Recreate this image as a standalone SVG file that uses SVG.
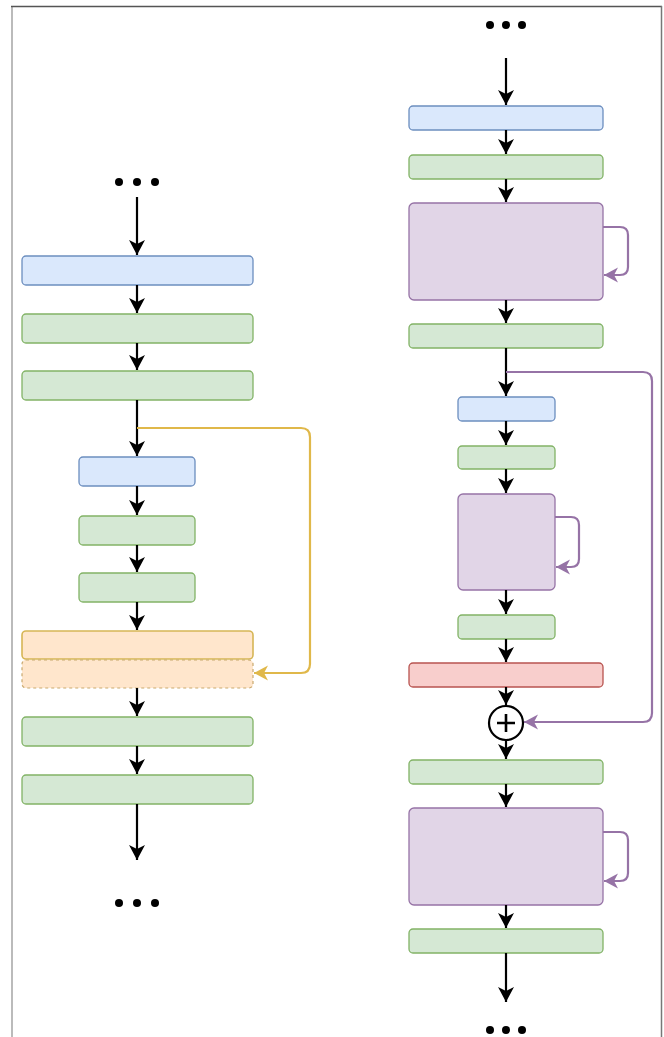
<svg xmlns="http://www.w3.org/2000/svg" width="664" height="1037" viewBox="0 0 664 1037">
<style>
.blue{fill:#dae8fc;stroke:#6c8ebf;stroke-width:1.3}
.green{fill:#d5e8d4;stroke:#82b366;stroke-width:1.3}
.purple{fill:#e1d5e7;stroke:#9673a6;stroke-width:1.3}
.orange{fill:#ffe6cc;stroke:#d6b656;stroke-width:1.6}
.orange-d{fill:#ffe6cc;stroke:#c9a96e;stroke-width:1.2;stroke-dasharray:3 3}
.red{fill:#f8cecc;stroke:#b85450;stroke-width:1.3}
.flow{fill:none;stroke:#000;stroke-width:2.2}
.skipY{fill:none;stroke:#e0b84a;stroke-width:2.2}
.skipP{fill:none;stroke:#9673a6;stroke-width:2.2}
.dot{fill:#000}
</style>
<defs>
<marker id="ab" markerUnits="userSpaceOnUse" markerWidth="18" markerHeight="18" viewBox="-16 -9 18 18" refX="0" refY="0" orient="auto">
<path d="M0,0 L-15,-8 L-11,0 L-15,8 Z" fill="#000"/>
</marker>
<marker id="ay" markerUnits="userSpaceOnUse" markerWidth="18" markerHeight="18" viewBox="-16 -9 18 18" refX="0" refY="0" orient="auto">
<path d="M0,0 L-14,-7.5 L-10,0 L-14,7.5 Z" fill="#e0b84a"/>
</marker>
<marker id="ap" markerUnits="userSpaceOnUse" markerWidth="18" markerHeight="18" viewBox="-16 -9 18 18" refX="0" refY="0" orient="auto">
<path d="M0,0 L-14,-7.5 L-10,0 L-14,7.5 Z" fill="#9673a6"/>
</marker>
</defs>
<rect width="664" height="1037" fill="#fff"/>
<g id="frame">
<line x1="12" y1="6" x2="12" y2="1037" stroke="#bbb" stroke-width="2"/>
<line x1="11" y1="6.5" x2="662" y2="6.5" stroke="#555" stroke-width="1.5"/>
<line x1="661.5" y1="6" x2="661.5" y2="1037" stroke="#777" stroke-width="1.5"/>
</g>
<g id="left-dots-top"><circle class="dot" cx="119" cy="182" r="4"/><circle class="dot" cx="137" cy="182" r="4"/><circle class="dot" cx="155" cy="182" r="4"/></g>
<g id="left-dots-bottom"><circle class="dot" cx="119" cy="903" r="4"/><circle class="dot" cx="137" cy="903" r="4"/><circle class="dot" cx="155" cy="903" r="4"/></g>
<g id="right-dots-top"><circle class="dot" cx="490" cy="25" r="4"/><circle class="dot" cx="506" cy="25" r="4"/><circle class="dot" cx="522" cy="25" r="4"/></g>
<g id="right-dots-bottom"><circle class="dot" cx="490" cy="1030" r="4"/><circle class="dot" cx="506" cy="1030" r="4"/><circle class="dot" cx="522" cy="1030" r="4"/></g>
<g id="L1"><rect class="blue" x="22" y="256" width="231" height="29" rx="4"/></g>
<g id="L2"><rect class="green" x="22" y="314" width="231" height="29" rx="4"/></g>
<g id="L3"><rect class="green" x="22" y="371" width="231" height="29" rx="4"/></g>
<g id="L4"><rect class="blue" x="79" y="457" width="116" height="29" rx="4"/></g>
<g id="L5"><rect class="green" x="79" y="516" width="116" height="29" rx="4"/></g>
<g id="L6"><rect class="green" x="79" y="573" width="116" height="29" rx="4"/></g>
<g id="L7"><rect class="orange" x="22" y="631" width="231" height="28" rx="4"/></g>
<g id="L8"><rect class="orange-d" x="22" y="660" width="231" height="28" rx="4"/></g>
<g id="L9"><rect class="green" x="22" y="717" width="231" height="29" rx="4"/></g>
<g id="L10"><rect class="green" x="22" y="775" width="231" height="29" rx="4"/></g>
<g id="R1"><rect class="blue" x="409" y="106" width="194" height="24" rx="4"/></g>
<g id="R2"><rect class="green" x="409" y="155" width="194" height="24" rx="4"/></g>
<g id="R3"><rect class="purple" x="409" y="203" width="194" height="97" rx="5"/></g>
<g id="R4"><rect class="green" x="409" y="324" width="194" height="24" rx="4"/></g>
<g id="R5"><rect class="blue" x="458" y="397" width="97" height="24" rx="4"/></g>
<g id="R6"><rect class="green" x="458" y="446" width="97" height="23" rx="4"/></g>
<g id="R7"><rect class="purple" x="458" y="494" width="97" height="96" rx="5"/></g>
<g id="R8"><rect class="green" x="458" y="615" width="97" height="24" rx="4"/></g>
<g id="R9"><rect class="red" x="409" y="663" width="194" height="24" rx="4"/></g>
<g id="R10"><circle cx="506" cy="723" r="17" fill="#fff" stroke="#000" stroke-width="2.2"/><path d="M497,723 H515 M506,714 V732" stroke="#000" stroke-width="2.6"/></g>
<g id="R11"><rect class="green" x="409" y="760" width="194" height="24" rx="4"/></g>
<g id="R12"><rect class="purple" x="409" y="808" width="194" height="97" rx="5"/></g>
<g id="R13"><rect class="green" x="409" y="929" width="194" height="24" rx="4"/></g>
<g id="connectors">
<path class="flow" d="M137,197 V255" marker-end="url(#ab)"/>
<path class="flow" d="M137,285 V313" marker-end="url(#ab)"/>
<path class="flow" d="M137,343 V370" marker-end="url(#ab)"/>
<path class="flow" d="M137,400 V456" marker-end="url(#ab)"/>
<path class="flow" d="M137,486 V515" marker-end="url(#ab)"/>
<path class="flow" d="M137,545 V572" marker-end="url(#ab)"/>
<path class="flow" d="M137,602 V630" marker-end="url(#ab)"/>
<path class="flow" d="M137,688 V716" marker-end="url(#ab)"/>
<path class="flow" d="M137,746 V774" marker-end="url(#ab)"/>
<path class="flow" d="M137,804 V860" marker-end="url(#ab)"/>
<path class="skipY" d="M137,428 H301 Q310,428 310,437 V664 Q310,673 301,673 H254" marker-end="url(#ay)"/>
<path class="flow" d="M506,58 V105" marker-end="url(#ab)"/>
<path class="flow" d="M506,130 V154" marker-end="url(#ab)"/>
<path class="flow" d="M506,179 V202" marker-end="url(#ab)"/>
<path class="flow" d="M506,300 V323" marker-end="url(#ab)"/>
<path class="flow" d="M506,348 V396" marker-end="url(#ab)"/>
<path class="flow" d="M506,421 V445" marker-end="url(#ab)"/>
<path class="flow" d="M506,469 V493" marker-end="url(#ab)"/>
<path class="flow" d="M506,590 V614" marker-end="url(#ab)"/>
<path class="flow" d="M506,639 V662" marker-end="url(#ab)"/>
<path class="flow" d="M506,687 V705" marker-end="url(#ab)"/>
<path class="flow" d="M506,740 V759" marker-end="url(#ab)"/>
<path class="flow" d="M506,784 V807" marker-end="url(#ab)"/>
<path class="flow" d="M506,905 V928" marker-end="url(#ab)"/>
<path class="flow" d="M506,953 V1002" marker-end="url(#ab)"/>
<path class="skipP" d="M603,227 H620 Q628,227 628,235 V267 Q628,275 620,275 H604" marker-end="url(#ap)"/>
<path class="skipP" d="M555,517 H571 Q579,517 579,525 V559 Q579,567 571,567 H556" marker-end="url(#ap)"/>
<path class="skipP" d="M603,832 H620 Q628,832 628,840 V873 Q628,881 620,881 H604" marker-end="url(#ap)"/>
<path class="skipP" d="M506,372 H643 Q652,372 652,381 V713 Q652,722 643,722 H524" marker-end="url(#ap)"/>
</g>
</svg>
